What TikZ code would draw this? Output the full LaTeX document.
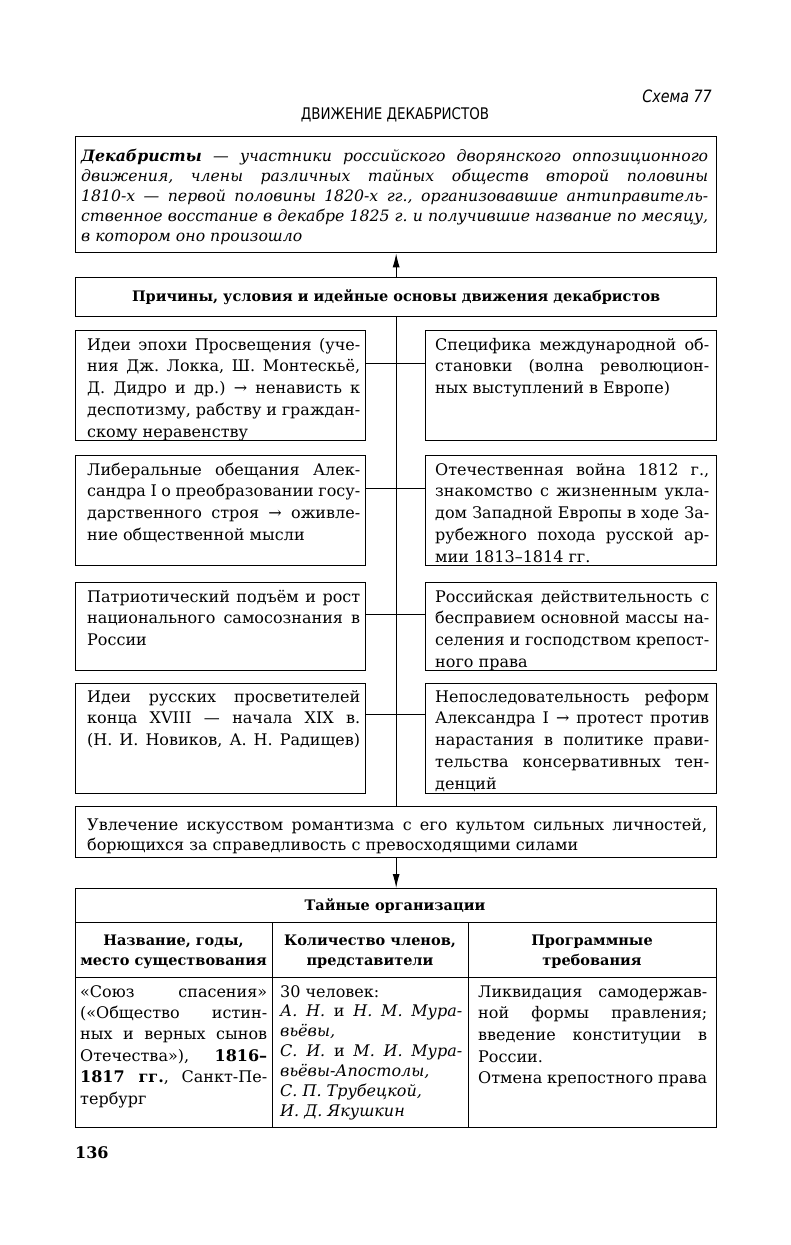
\documentclass[tikz,border=0pt]{standalone}
\usepackage{fontspec}
\setmainfont{DejaVu Serif}
\newfontfamily\headsans[FakeStretch=0.84]{DejaVu Sans}
\usetikzlibrary{calc,arrows.meta}
\frenchspacing
\newcommand\TB[2]{\vtop{\hsize=#1\relax\parindent=0pt\parskip=0pt\relax #2}}
\newcommand\JL[1]{\par\noindent\hbox to\hsize{#1}\par}
\newcommand\LL[1]{\par\noindent\hbox to\hsize{#1\hfil}\par}
\begin{document}
\begin{tikzpicture}[x=1pt,y=-1pt,
  frame/.style={draw, line width=1.3pt, inner sep=0pt, anchor=north west},
  txt/.style={anchor=base west, inner sep=0pt, font=\fontsize{16}{21.8}\selectfont},
  bold/.style={inner sep=0pt, font=\bfseries\fontsize{14.5}{20}\selectfont},
  link/.style={line width=1pt},
  arr/.style={line width=1pt, -{Latex[length=14pt,width=7pt]}}]
\useasboundingbox (0,0) rectangle (791,1245);

% header
\node[anchor=east, inner sep=0pt, font=\headsans\itshape\fontsize{17}{20}\selectfont] (schema) at (712,96) {Схема 77};
\node[inner sep=0pt, font=\headsans\fontsize{16}{20}\selectfont] (title) at (395,115) {ДВИЖЕНИЕ ДЕКАБРИСТОВ};

% definition
\node[frame, minimum width=641, minimum height=116] (def) at (75,136) {};
\node[txt, font=\itshape\fontsize{15.7}{20.2}\selectfont] (deft) at ($(def.north west)+(6,25)$) {\TB{627pt}{%
\JL{\textbf{Декабристы} — участники российского дворянского оппозиционного}
\JL{движения, члены различных тайных обществ второй половины}
\JL{1810-х — первой половины 1820-х гг., организовавшие антиправитель-}
\JL{ственное восстание в декабре 1825 г. и получившие название по месяцу,}
\LL{в котором оно произошло}}};

% causes header
\node[frame, minimum width=641, minimum height=39] (caus) at (75,277) {};
\node[bold] (caust) at (caus.center) {Причины, условия и идейные основы движения декабристов};

% left column
\node[frame, minimum width=290, minimum height=110] (L1) at (75,330) {};
\node[frame, minimum width=290, minimum height=110] (L2) at (75,455) {};
\node[frame, minimum width=290, minimum height=88] (L3) at (75,582) {};
\node[frame, minimum width=290, minimum height=110] (L4) at (75,683) {};
% right column
\node[frame, minimum width=291, minimum height=110] (R1) at (425,330) {};
\node[frame, minimum width=291, minimum height=110] (R2) at (425,455) {};
\node[frame, minimum width=291, minimum height=88] (R3) at (425,582) {};
\node[frame, minimum width=291, minimum height=110] (R4) at (425,683) {};

\node[txt] (L1t) at ($(L1.north west)+(12,20)$) {\TB{273pt}{%
\JL{Идеи эпохи Просвещения (уче-}
\JL{ния Дж. Локка, Ш. Монтескьё,}
\JL{Д. Дидро и др.) → ненависть к}
\JL{деспотизму, рабству и граждан-}
\LL{скому неравенству}}};
\node[txt] (L2t) at ($(L2.north west)+(12,20)$) {\TB{273pt}{%
\JL{Либеральные обещания Алек-}
\JL{сандра I о преобразовании госу-}
\JL{дарственного строя → оживле-}
\LL{ние общественной мысли}}};
\node[txt] (L3t) at ($(L3.north west)+(12,20)$) {\TB{273pt}{%
\JL{Патриотический подъём и рост}
\JL{национального самосознания в}
\LL{России}}};
\node[txt] (L4t) at ($(L4.north west)+(12,19)$) {\TB{273pt}{%
\JL{Идеи русских просветителей}
\JL{конца XVIII — начала XIX в.}
\JL{(Н. И. Новиков, А. Н. Радищев)}}};

\node[txt] (R1t) at ($(R1.north west)+(10,20)$) {\TB{274pt}{%
\JL{Специфика международной об-}
\JL{становки (волна революцион-}
\LL{ных выступлений в Европе)}}};
\node[txt] (R2t) at ($(R2.north west)+(10,20)$) {\TB{274pt}{%
\JL{Отечественная война 1812 г.,}
\JL{знакомство с жизненным укла-}
\JL{дом Западной Европы в ходе За-}
\JL{рубежного похода русской ар-}
\LL{мии 1813–1814 гг.}}};
\node[txt] (R3t) at ($(R3.north west)+(10,20)$) {\TB{274pt}{%
\JL{Российская действительность с}
\JL{бесправием основной массы на-}
\JL{селения и господством крепост-}
\LL{ного права}}};
\node[txt] (R4t) at ($(R4.north west)+(10,19)$) {\TB{274pt}{%
\JL{Непоследовательность реформ}
\JL{Александра I → протест против}
\JL{нарастания в политике прави-}
\JL{тельства консервативных тен-}
\LL{денций}}};

% romanticism
\node[frame, minimum width=641, minimum height=51] (uv) at (75,806) {};
\node[txt, font=\fontsize{16}{20}\selectfont] (uvt) at ($(uv.north west)+(12,24)$) {\TB{620pt}{%
\JL{Увлечение искусством романтизма с его культом сильных личностей,}
\LL{борющихся за справедливость с превосходящими силами}}};

% table
\node[frame, minimum width=641, minimum height=239] (tbl) at (75,888) {};
\coordinate (hA) at (75,922);
\coordinate (hB) at (75,977);
\coordinate (c1) at (272,922);
\coordinate (c2) at (468,922);
\draw[link] (hA) -- (hA -| tbl.east);
\draw[link] (hB) -- (hB -| tbl.east);
\draw[link] (c1) -- (c1 |- tbl.south);
\draw[link] (c2) -- (c2 |- tbl.south);
\node[bold] (tblt) at (395,906) {Тайные организации};
\node[bold, align=center] (th1) at (173.5,952) {Название, годы,\\место существования};
\node[bold, align=center] (th2) at (370,952) {Количество членов,\\представители};
\node[bold, align=center] (th3) at (592,952) {Программные\\требования};

\node[txt, font=\fontsize{16}{21.4}\selectfont] (td1) at (80,997) {\TB{187pt}{%
\JL{«Союз спасения»}
\JL{(«Общество истин-}
\JL{ных и верных сынов}
\JL{Отечества»), \textbf{1816–}}
\JL{\textbf{1817 гг.}, Санкт-Пе-}
\LL{тербург}}};
\node[txt, font=\fontsize{16}{19.9}\selectfont] (td2) at (280,997) {\TB{182pt}{%
\LL{30 человек:}
\JL{\textit{А. Н.} и \textit{Н. М. Мура-}}
\LL{\textit{вьёвы,}}
\JL{\textit{С. И.} и \textit{М. И. Мура-}}
\LL{\textit{вьёвы-Апостолы,}}
\LL{\textit{С. П. Трубецкой,}}
\LL{\textit{И. Д. Якушкин}}}};
\node[txt, font=\fontsize{16}{21.7}\selectfont] (td3) at (478,997) {\TB{229pt}{%
\JL{Ликвидация самодержав-}
\JL{ной формы правления;}
\JL{введение конституции в}
\LL{России.}
\LL{Отмена крепостного права}}};

% page number
\node[anchor=west, inner sep=0pt, font=\bfseries\fontsize{16}{20}\selectfont] (page) at (75,1153) {136};

% connectors
\draw[arr] (caus.north) -- (def.south);
\draw[link] (caus.south) -- (uv.north);
\draw[link] ($(L1.north east)+(0,33)$) -- ($(R1.north west)+(0,33)$);
\draw[link] ($(L2.north east)+(0,33)$) -- ($(R2.north west)+(0,33)$);
\draw[link] ($(L3.north east)+(0,32)$) -- ($(R3.north west)+(0,32)$);
\draw[link] ($(L4.north east)+(0,31)$) -- ($(R4.north west)+(0,31)$);
\draw[arr] (uv.south) -- (tbl.north);
\end{tikzpicture}
\end{document}
